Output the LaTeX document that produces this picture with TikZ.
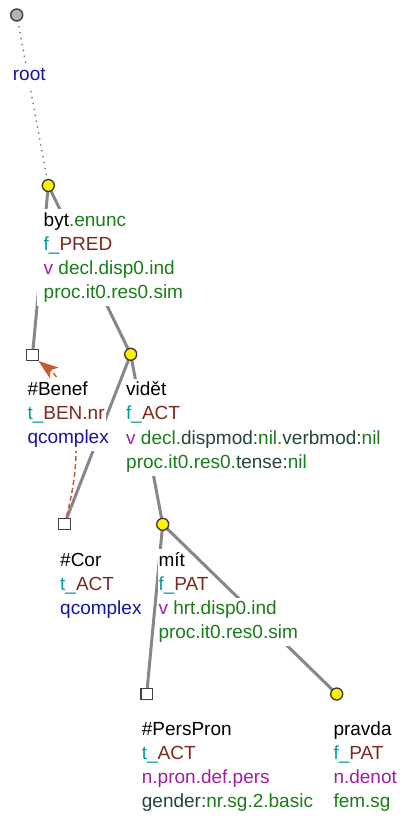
\documentclass[tikz,border=0pt]{standalone}
\usepackage{fontspec}
\setmainfont{Liberation Sans}
\usetikzlibrary{arrows.meta}
\pgfdeclarelayer{bg}
\pgfsetlayers{bg,main}
\definecolor{cgrn}{RGB}{25,125,25}
\definecolor{cdrk}{RGB}{35,70,50}
\definecolor{cteal}{RGB}{0,155,155}
\definecolor{cmar}{RGB}{125,40,30}
\definecolor{cpur}{RGB}{160,30,160}
\definecolor{cblu}{RGB}{20,20,165}
\definecolor{cedge}{RGB}{135,135,135}
\definecolor{ccoref}{RGB}{200,90,50}
\newcommand{\G}[1]{\textcolor{cgrn}{#1}}
\newcommand{\D}[1]{\textcolor{cdrk}{#1}}
\newcommand{\T}[1]{\textcolor{cteal}{#1}}
\newcommand{\M}[1]{\textcolor{cmar}{#1}}
\newcommand{\Pu}[1]{\textcolor{cpur}{#1}}
\newcommand{\Bl}[1]{\textcolor{cblu}{#1}}
\begin{document}
\begin{tikzpicture}[x=1pt,y=-1pt,
  tnode/.style={circle,draw=black!80,fill=yellow,line width=1.3pt,minimum size=12pt,inner sep=0pt},
  rnode/.style={circle,draw=black!75,fill=black!30,line width=1.4pt,minimum size=12pt,inner sep=0pt},
  snode/.style={rectangle,draw=black!75,fill=white,line width=1.4pt,minimum size=11.5pt,inner sep=0pt},
  edge/.style={draw=cedge,line width=3pt},
  rootedge/.style={draw=black!50,line width=2pt,line cap=round,dash pattern=on 0pt off 6pt},
  coref/.style={draw=ccoref,line width=1.5pt,dash pattern=on 5pt off 3pt},
  corefhead/.style={draw=none,fill=ccoref},
  lab/.style={anchor=base west,fill=white,inner xsep=1pt,inner ysep=0pt,text height=17pt,text depth=7.3pt,font=\fontsize{19pt}{24pt}\selectfont},
  labw/.style={lab,execute at begin node={\hspace*{6pt}}}
]
\useasboundingbox (0,0) rectangle (400,816);
% tree nodes
\node[rnode] (nroot) at (16.7,15) {};
\node[tnode] (nbyt) at (48.3,185.5) {};
\node[snode] (nben) at (32.5,355) {};
\node[tnode] (nvid) at (130.7,354.3) {};
\node[snode] (ncor) at (64.5,524) {};
\node[tnode] (nmit) at (162.7,524.3) {};
\node[snode] (npers) at (146.7,694) {};
\node[tnode] (npra) at (336.7,694) {};
\coordinate (ctip) at (38.5,361);
\coordinate (cback) at (50.4,370.1);
\coordinate (cw1) at (58.6,367.6);
\coordinate (cw2) at (50.1,378.7);
% edges
\begin{pgfonlayer}{bg}
\draw[rootedge] (nroot.center) -- (nbyt.center);
\draw[edge] (nbyt.center) -- (nben.center);
\draw[edge] (nbyt.center) -- (nvid.center);
\draw[edge] (nvid.center) -- (ncor.center);
\draw[edge] (nvid.center) -- (nmit.center);
\draw[edge] (nmit.center) -- (npers.center);
\draw[edge] (nmit.center) -- (npra.center);
\draw[coref] (ncor.center) .. controls (86.8,445) and (74,393) .. (cback);
\end{pgfonlayer}
% labels
\node[lab] (lroot) at (11.7,80) {\Bl{root}};
\node[labw] (lbyt1) at (36.5,226) {byt\G{.enunc}};
\node[labw] (lbyt2) at (36.5,250.3) {\T{f\_}\M{PRED}};
\node[labw] (lbyt3) at (36.5,274.6) {\Pu{v} \G{decl.disp0.ind}};
\node[labw] (lbyt4) at (36.5,298.9) {\G{proc.it0.res0.sim}};
\node[lab] (lben1) at (26.3,395) {\#Benef};
\node[lab] (lben2) at (26.3,419.3) {\T{t\_}\M{BEN.nr}};
\node[lab] (lben3) at (26.3,443.6) {\Bl{qcomplex}};
\node[lab] (lvid1) at (125,395.5) {vidět};
\node[lab] (lvid2) at (125,419.8) {\T{f\_}\M{ACT}};
\node[lab] (lvid3) at (125,444.1) {\Pu{v} \G{decl.}\D{dispmod:}\G{nil.}\D{verbmod:}\G{nil}};
\node[lab] (lvid4) at (125,468.4) {\G{proc.it0.res0.}\D{tense:}\G{nil}};
\node[lab] (lcor1) at (59,566) {\#Cor};
\node[lab] (lcor2) at (59,590.3) {\T{t\_}\M{ACT}};
\node[lab] (lcor3) at (59,614.6) {\Bl{qcomplex}};
\node[lab] (lmit1) at (157.3,566) {mít};
\node[lab] (lmit2) at (157.3,590.3) {\T{f\_}\M{PAT}};
\node[lab] (lmit3) at (157.3,614.6) {\Pu{v} \G{hrt.disp0.ind}};
\node[lab] (lmit4) at (157.3,638.9) {\G{proc.it0.res0.sim}};
\node[lab] (lper1) at (140.7,735) {\#PersPron};
\node[lab] (lper2) at (140.7,759.3) {\T{t\_}\M{ACT}};
\node[lab] (lper3) at (140.7,783.6) {\Pu{n.pron.def.pers}};
\node[lab] (lper4) at (140.7,807.9) {\D{gender:}\G{nr.sg.2.basic}};
\node[lab] (lpra1) at (332.3,735) {pravda};
\node[lab] (lpra2) at (332.3,759.3) {\T{f\_}\M{PAT}};
\node[lab] (lpra3) at (332.3,783.6) {\Pu{n.denot}};
\node[lab] (lpra4) at (332.3,807.9) {\G{fem.sg}};
\fill[corefhead] (ctip) -- (cw1) -- (cback) -- (cw2) -- cycle;
\end{tikzpicture}
\end{document}
